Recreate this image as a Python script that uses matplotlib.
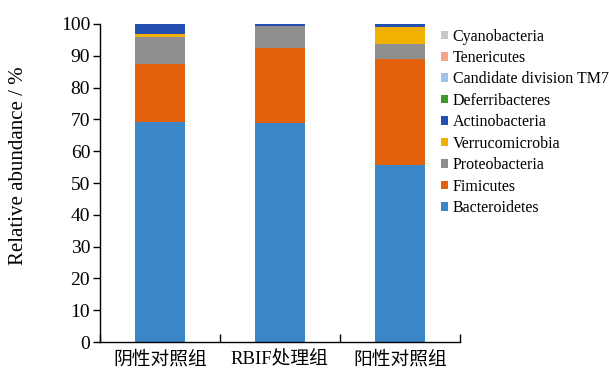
import numpy as np
import matplotlib.pyplot as plt

plt.rcParams['font.family'] = ['Liberation Serif', 'Noto Sans CJK SC']

groups = ['阴性对照组', 'RBIF处理组', '阳性对照组']

# phylum abundance (%) per group, stacked bottom -> top
phyla = ['Bacteroidetes', 'Fimicutes', 'Proteobacteria', 'Verrucomicrobia',
         'Actinobacteria', 'Deferribacteres', 'Candidate division TM7',
         'Tenericutes', 'Cyanobacteria']
bacteroidetes = [69.3, 68.8, 55.7]
fimicutes = [18.1, 23.6, 33.2]
proteobacteria = [8.6, 7.0, 4.7]
verrucomicrobia = [0.8, 0.1, 5.6]
actinobacteria = [3.1, 0.4, 0.7]
deferribacteres = [0.02, 0.02, 0.02]
tm7 = [0.02, 0.02, 0.02]
tenericutes = [0.02, 0.01, 0.01]
cyanobacteria = [0.02, 0.01, 0.01]

colors = ['#3B86C6', '#E2610B', '#8E8E8E', '#F2B000', '#2450B2',
          '#3F9A2A', '#9DC3E6', '#F4A48A', '#C8C8C8']

series = [bacteroidetes, fimicutes, proteobacteria, verrucomicrobia,
          actinobacteria, deferribacteres, tm7, tenericutes, cyanobacteria]

fig = plt.figure(figsize=(6.09, 3.69), dpi=100)
ax = fig.add_axes([0.164, 0.073, 0.591, 0.862])

x = np.arange(len(groups))
bottom = np.zeros(len(groups))
handles = []
for name, vals, c in zip(phyla, series, colors):
    b = ax.bar(x, vals, 0.42, bottom=bottom, color=c, label=name, linewidth=0)
    handles.append(b)
    bottom += np.array(vals)

ax.set_xlim(-0.5, 2.5)
ax.set_ylim(0, 100)
ax.set_yticks(np.arange(0, 101, 10))
ax.tick_params(axis='y', direction='out', length=5, width=1, labelsize=14, pad=2)

# group labels centred under bars, ticks at group boundaries
ax.set_xticks([-0.5, 0.5, 1.5, 2.5])
ax.set_xticklabels([])
ax.tick_params(axis='x', direction='in', length=6, width=1)
for xi, g in zip(x, groups):
    ax.text(xi, -5.6, g, ha='center', va='center', fontsize=13.5, clip_on=False)

for s in ['top', 'right']:
    ax.spines[s].set_visible(False)
for s in ['left', 'bottom']:
    ax.spines[s].set_linewidth(1)

fig.text(0.03, 0.551, 'Relative abundance / %', rotation=90,
         ha='center', va='center', fontsize=15)

leg = fig.legend(handles[::-1], phyla[::-1], loc='upper left',
                 bbox_to_anchor=(0.713, 0.94), frameon=False, fontsize=11.5,
                 handlelength=0.45, handleheight=0.45, handletextpad=0.3,
                 labelspacing=0.34, borderaxespad=0)

fig.savefig('out.png', dpi=100)
